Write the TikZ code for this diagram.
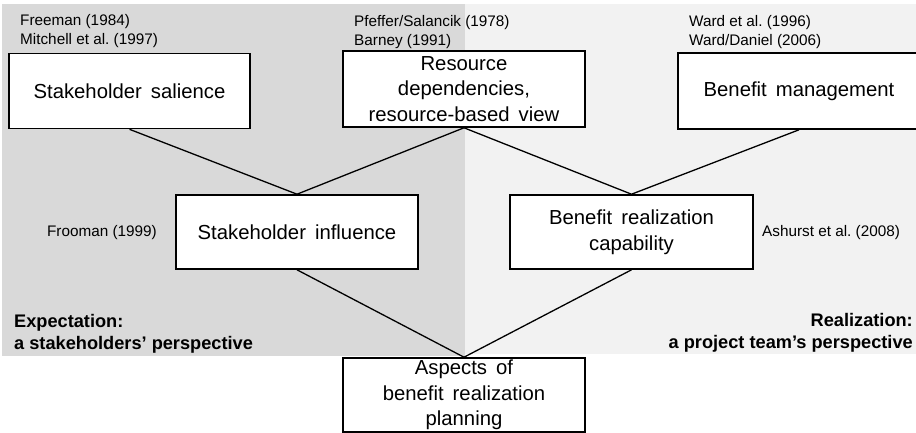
\documentclass[tikz,border=0pt]{standalone}
\usepackage{fontspec}
\setmainfont{Liberation Sans}
\newfontfamily\boxfont{Liberation Sans}[WordSpace=1.6]
\definecolor{leftgray}{HTML}{D9D9D9}
\definecolor{rightgray}{HTML}{F2F2F2}
\frenchspacing
\begin{document}
\begin{tikzpicture}[x=1pt,y=-1pt,
  box/.style={draw, line width=1.6pt, fill=white, align=center, inner sep=0pt,
    font=\boxfont\fontsize{20.3}{25.5}\selectfont},
  ref/.style={font=\frenchspacing\fontsize{15.3}{19}\selectfont, inner sep=0pt, align=left},
  persp/.style={font=\bfseries\fontsize{18.2}{22}\selectfont, inner sep=0pt},
  link/.style={line width=1.3pt}]
\useasboundingbox (0,0) rectangle (916,432);
\clip (0,0) rectangle (916,432);
\fill[leftgray] (2,4) rectangle (465,356);
\fill[rightgray] (465,4) rectangle (916,354);

\node[box, minimum width=241pt, minimum height=75pt] (sal) at (129.5,91) {Stakeholder salience};
\node[box, minimum width=242pt, minimum height=76pt] (res) at (464,89) {Resource\\dependencies,\\resource-based view};
\node[box, minimum width=242pt, minimum height=76pt] (ben) at (799,91) {Benefit management};
\node[box, minimum width=242pt, minimum height=74pt] (inf) at (297,232) {Stakeholder influence};
\node[box, minimum width=243pt, minimum height=74pt] (real) at (631.5,232) {Benefit realization\\capability};
\node[box, minimum width=242pt, minimum height=74pt] (asp) at (464,395) {Aspects of\\benefit realization\\planning};

\draw[link] (sal.south) -- (inf.north);
\draw[link] (res.south) -- (inf.north);
\draw[link] (res.south) -- (real.north);
\draw[link] (ben.south) -- (real.north);
\draw[link] (inf.south) -- (asp.north);
\draw[link] (real.south) -- (asp.north);

\node[ref, anchor=west] (r1) at (20,31) {Freeman (1984)\\Mitchell et al. (1997)};
\node[ref, anchor=west] (r2) at (354,32) {Pfeffer/Salancik (1978)\\Barney (1991)};
\node[ref, anchor=west] (r3) at (689,32) {Ward et al. (1996)\\Ward/Daniel (2006)};
\node[ref, anchor=east] (r4) at (157,233) {Frooman (1999)};
\node[ref, anchor=west] (r5) at (762,233) {Ashurst et al. (2008)};

\node[persp, anchor=west, align=left] (pl) at (14,334) {Expectation:\\a stakeholders’ perspective};
\node[persp, anchor=east, align=right] (pr) at (913,333) {Realization:\\a project team’s perspective};
\end{tikzpicture}
\end{document}
